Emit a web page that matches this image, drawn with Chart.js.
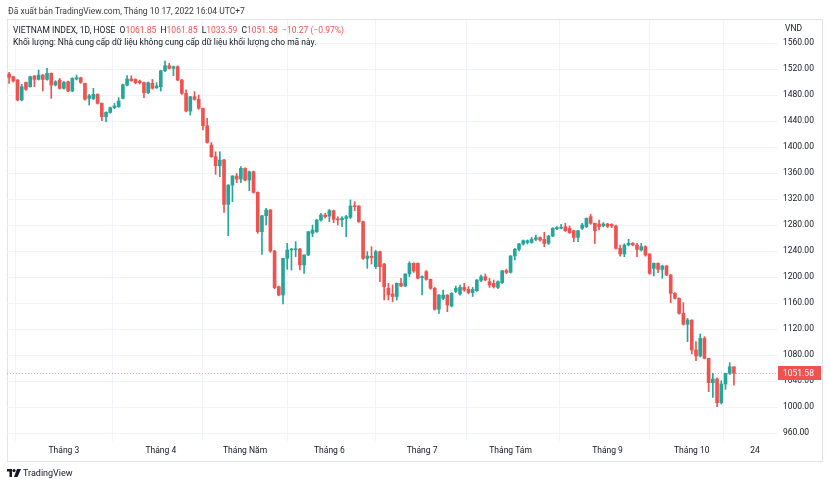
<!DOCTYPE html>
<html><head><meta charset="utf-8">
<script src="https://cdn.jsdelivr.net/npm/chart.js@4.4.0/dist/chart.umd.min.js"></script>
<style>
html,body{margin:0;padding:0;background:#fff;}
#wrap{position:relative;width:830px;height:486px;font-family:Roboto,"Noto Sans",sans-serif;overflow:hidden;}
canvas{position:absolute;left:0;top:0;}
.t{position:absolute;white-space:nowrap;font-size:8.5px;color:#131722;line-height:10px;}
#frame{position:absolute;left:7px;top:19px;width:814px;height:441px;border:1px solid #e0e3eb;}
.r{color:#ef5350;}
</style></head><body>
<div id="wrap">
<div id="frame"></div>
<canvas id="c" width="830" height="486"></canvas>
<div class="t" style="left:8px;top:6px;color:#3a3a3a;">Đã xuất bản TradingView.com, Tháng 10 17, 2022 16:04 UTC+7</div>
<div class="t" style="left:13px;top:25px;">VIETNAM INDEX, 1D, HOSE&nbsp;&nbsp;O<span class="r">1061.85</span>&nbsp;&nbsp;H<span class="r">1061.85</span>&nbsp;&nbsp;L<span class="r">1033.59</span>&nbsp;&nbsp;C<span class="r">1051.58</span>&nbsp;&nbsp;<span class="r">−10.27 (−0.97%)</span></div>
<div class="t" style="left:13px;top:37px;">Khối lượng: Nhà cung cấp dữ liệu không cung cấp dữ liệu khối lượng cho mã này.</div>
<div class="t" style="left:785px;top:23px;">VND</div>
<svg style="position:absolute;left:7px;top:469px" width="14" height="8" viewBox="0 0 14 8">
<path d="M0 0H5V8H2.5V2.5H0Z" fill="#131722"/><circle cx="7" cy="1.6" r="1.6" fill="#131722"/><path d="M10 0H14L10.5 8H7Z" fill="#131722"/></svg>
<div class="t" style="left:23px;top:468px;font-size:9px;">TradingView</div>
</div>
<script>
// OHLC series (VN-Index, daily, from 10 Feb 2022 to 17 Oct 2022)
const open = [1512.3,1508.2,1503,1472.3,1499.4,1492.8,1509.2,1504,1510.7,1504,1513.3,1495.3,1503,1490.2,1500.5,1486.1,1504.6,1506.6,1497.9,1474.8,
1474.3,1481,1467.1,1446.6,1453.3,1460.5,1462,1474.8,1495.3,1504.6,1504,1501.5,1499,1483.6,1498,1491.2,1492.8,1517.4,1525.1,1521,
1523.6,1503,1482.5,1455.3,1477.4,1473.3,1459.5,1432.8,1403,1385.1,1371.2,1380,1311.8,1341.5,1355.4,1350.7,1367.1,1349.2,1362,1330.2,
1269.7,1294.3,1303.1,1240,1185,1172.3,1228.7,1241.6,1242,1243,1218.5,1233.9,1267.2,1269.7,1287.7,1295.4,1293.8,1302,1289,1288,
1290,1291.8,1309.7,1309.2,1285.1,1228.7,1232,1215.9,1239,1220,1182.6,1174,1170,1190.3,1186.2,1204.6,1221,1221,1199,1208.2,
1196.4,1182.6,1150.3,1167.2,1172,1155.4,1178,1174,1184,1181,1176,1179,1194.8,1200.5,1192.8,1190.3,1184,1191.3,1209.7,1207.2,
1232.3,1242.6,1250.8,1253.3,1253.3,1257.9,1260.5,1257.9,1251.8,1263,1274.4,1275,1277.4,1274.9,1271.3,1261,1274.9,1277.4,1292.8,1282.6,
1281.5,1279,1281.5,1281,1278.5,1244.1,1235.4,1249.3,1251.8,1249.2,1241.6,1246.7,1235.4,1213.3,1221,1211.8,1216.9,1203,1174.9,1167.2,
1144.1,1127.2,1133.8,1087.7,1078.5,1105.6,1074.9,1037.4,1043.1,1006.7,1035.4,1051.8,1061.85];
const high = [1514.8,1509,1504,1496.4,1500,1509,1510,1518.4,1511.5,1521,1514,1502,1505.6,1501,1501.5,1506.6,1510.7,1507.5,1498.5,1481,
1490.2,1482,1468,1454,1461.5,1467.1,1475.9,1497,1509.7,1509.7,1505,1503,1500,1500,1504,1499,1518,1532.3,1528.7,1524.5,
1525,1504,1488,1478,1485.1,1480,1460,1444,1407,1392.8,1392.8,1381,1342,1356,1359.4,1369.7,1368,1363,1363,1331,
1295,1305.6,1304,1241,1186,1229,1251.8,1244,1254.4,1244,1234,1270,1280,1288.5,1298,1298,1304,1303,1292.8,1292.8,
1295,1318.5,1315.9,1310,1286,1239,1246.7,1241,1240,1221,1190.3,1187.7,1191,1198,1205,1223.6,1222,1222,1202,1210,
1197,1184,1173,1180,1173,1176,1186,1187.7,1190.3,1185,1184,1196,1203,1204.6,1198,1195.4,1194,1210,1212,1233,
1244,1252,1257,1257,1261,1264.6,1262,1268.7,1264,1276,1277.5,1281,1282.6,1278.5,1272,1272,1282.6,1291,1296.4,1283,
1287.7,1283.6,1282.6,1282,1280,1249,1251,1258,1253,1252,1251.8,1248,1236,1222,1222,1218,1218,1204,1176,1168,
1160.5,1136.4,1134,1100.5,1112.3,1108.2,1075,1051.8,1045,1040.5,1052,1068.2,1061.85];
const low = [1498,1500,1471,1471,1487,1492,1492.8,1503,1486.1,1503,1474.8,1494,1489,1489,1485,1485,1503,1498,1472,1464.6,
1473,1466,1440.5,1438.9,1452,1459,1461,1474,1494,1501,1497,1497,1476,1482,1489,1490,1486,1516,1520,1509.7,
1502,1481,1454,1449.2,1472,1458,1426.1,1406,1384,1357.9,1354.3,1299.5,1263.6,1315.9,1345.1,1345.1,1348,1332.8,1329,1267.2,
1234.9,1280,1238,1182,1171,1158.5,1211.8,1210.8,1231.3,1210.8,1205.7,1233,1262,1268.5,1286,1291,1285.1,1283.6,1280,1277.4,
1262,1290,1302,1284,1227,1213.4,1220,1213,1192.8,1164.6,1164.6,1162,1164.6,1185,1185,1200.5,1207,1197,1172.3,1195,
1181,1149,1144.1,1165,1146.7,1154,1176,1172,1178,1174,1170,1178,1193,1194,1184,1183,1182,1190,1205,1206,
1226.2,1240,1249,1250.8,1252,1256,1255,1246.7,1250,1262,1273,1274,1270,1267,1254.4,1254.4,1273,1276,1281,1251.8,
1272.3,1277,1276,1276,1243,1232,1231.3,1248,1248,1231.3,1240,1232,1204,1201.5,1206.7,1198,1202,1160.5,1166,1143,
1126,1100.5,1081.5,1071.3,1077,1074,1023.6,1014.9,1000.5,1004.6,1027.2,1050,1033.59];
const close = [1507.1,1501.5,1472.3,1492.8,1488.7,1508.2,1504,1510.7,1504,1513.3,1495.3,1500.5,1490.2,1499.4,1486.1,1505.6,1506.6,1499.4,1473.3,1479,
1481,1467.1,1446.6,1453.3,1460.5,1463,1470.7,1495.8,1504.6,1502,1499,1499,1483.6,1499,1490.2,1493.8,1517.4,1525.1,1521,1523.6,
1503,1482.5,1455.3,1477.4,1473.3,1459.5,1432.8,1407.1,1385.1,1371.2,1380,1311.8,1341.5,1355.4,1350.7,1367.1,1349.2,1362,1330.2,1269.7,
1294.3,1303.1,1240,1183.6,1172.3,1228.7,1241.6,1243,1243,1218.5,1233.9,1269.7,1272.3,1287.7,1295.4,1292.8,1302,1288.7,1288,1290.3,
1292.8,1309.2,1308.2,1285.1,1228.7,1232.3,1230,1239,1215.9,1185.1,1172.3,1170,1190.3,1186.2,1204.6,1221,1209.2,1198,1200.5,1196.4,
1182.6,1150.3,1172.3,1172.3,1157,1174.9,1182.6,1184,1180,1176,1181,1195.4,1200.5,1195.4,1187.7,1185.1,1192.8,1209.7,1207.2,1232.3,
1242.6,1250.8,1255.9,1255.9,1257.9,1260.5,1256.9,1251.8,1263,1274.9,1276,1276.4,1271.3,1268.2,1261,1271.3,1280,1290.3,1282.6,1271.3,
1277.4,1281.5,1278,1278.5,1244.1,1235.4,1249.2,1251.8,1249.3,1242.6,1246.7,1233.8,1205.6,1221,1211.8,1216.9,1203,1174.9,1167.2,1144.1,
1127.2,1133.8,1087.7,1078.5,1105.6,1074.9,1037.4,1043.1,1006.7,1035.4,1051.8,1061.85,1051.58];
// time-axis ticks (candle index of first session of each month) and their texts
const tickIndex = [13, 36, 56, 76, 98, 119, 142, 162, 177];
const tickText = ['Tháng 3', 'Tháng 4', 'Tháng Năm', 'Tháng 6', 'Tháng 7', 'Tháng Tám', 'Tháng 9', 'Tháng 10', '24'];

const UP = '#26a69a', DOWN = '#ef5350';
const colors = close.map((c, i) => c >= open[i] ? UP : DOWN);
const wickData = low.map((l, i) => ({x: i, y: [l, high[i]]}));
const bodyData = open.map((o, i) => ({x: i, y: [Math.min(o, close[i]), Math.max(o, close[i])]}));

const FONT = {family: 'Roboto, "Noto Sans", sans-serif', size: 8.5};

const lastPrice = {
  id: 'lastPrice',
  beforeDatasetsDraw(chart) {
    const {ctx, chartArea, scales: {y}} = chart;
    const py = Math.round(y.getPixelForValue(close[close.length - 1])) + 0.5;
    ctx.save();
    ctx.strokeStyle = 'rgba(239,83,80,0.5)';
    ctx.setLineDash([1, 2]);
    ctx.lineWidth = 1;
    ctx.beginPath(); ctx.moveTo(chartArea.left, py); ctx.lineTo(chartArea.right, py); ctx.stroke();
    ctx.restore();
  },
  afterDraw(chart) {
    const {ctx, chartArea, scales: {y}} = chart;
    const last = close[close.length - 1];
    const py = Math.round(y.getPixelForValue(last));
    ctx.save();
    ctx.fillStyle = DOWN;
    ctx.fillRect(chartArea.right, py - 7, 43, 14);
    ctx.fillStyle = '#fff';
    ctx.font = '8.5px Roboto, "Noto Sans", sans-serif';
    ctx.textBaseline = 'middle';
    ctx.textAlign = 'left';
    ctx.fillText(last.toFixed(2), chartArea.right + 5, py + 0.5);
    ctx.restore();
  }
};

new Chart(document.getElementById('c'), {
  type: 'bar',
  data: {
    datasets: [
      {data: wickData, backgroundColor: colors, barThickness: 1, grouped: false, borderWidth: 0, order: 2},
      {data: bodyData, backgroundColor: colors, barThickness: 3, grouped: false, borderWidth: 0, minBarLength: 1, order: 1}
    ]
  },
  options: {
    responsive: false,
    animation: false,
    events: [],
    layout: {padding: {left: 7, top: 20, right: 8, bottom: 25}},
    plugins: {legend: {display: false}, tooltip: {enabled: false}},
    scales: {
      x: {
        type: 'linear',
        min: -0.5,
        max: 182.46,
        offset: false,
        afterBuildTicks: s => { s.ticks = tickIndex.map(v => ({value: v})); },
        afterFit: s => { s.height = 20; },
        ticks: {
          autoSkip: false, maxRotation: 0, padding: 5, color: '#131722', font: FONT,
          callback: v => { const k = tickIndex.indexOf(v); return k >= 0 ? tickText[k] : ''; }
        },
        grid: {color: '#f0f3fa', drawTicks: false},
        border: {display: false}
      },
      y: {
        position: 'right',
        min: 947.7,
        max: 1595.4,
        afterFit: s => { s.width = 44; },
        ticks: {stepSize: 40, includeBounds: false, padding: 5, color: '#131722', font: FONT,
          callback: v => Number(v).toFixed(2)},
        grid: {color: '#f0f3fa', drawTicks: false},
        border: {display: false}
      }
    }
  },
  plugins: [lastPrice]
});
</script>
</body></html>
